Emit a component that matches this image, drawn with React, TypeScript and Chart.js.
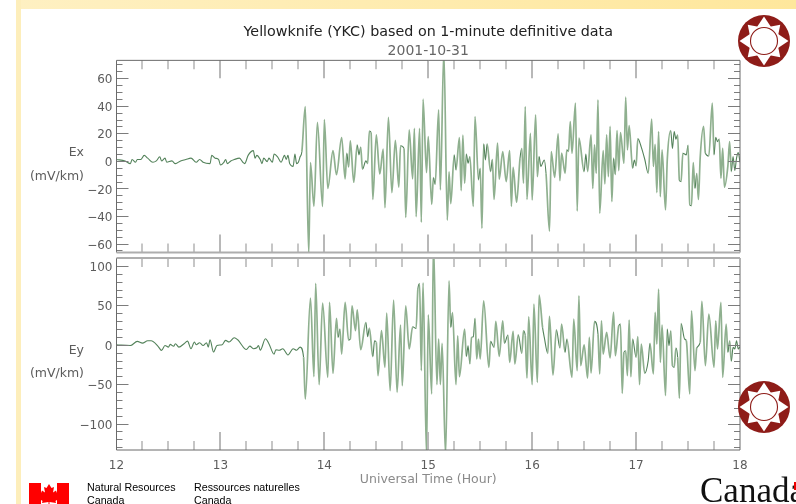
import React, { useEffect, useRef } from "react";
import { Chart, registerables } from "chart.js";

Chart.register(...registerables);

const exMinutes = [0,5,8,9,11,12,14,16,18,21,23,25,26,28,29,32,34,37,40,43,46,48,50,54,55,57,59,60,62,63,64,66,68,71,73,74,76,79,80,81,83,84,85,87,88,90,91,93,95,97,98,99,100,102,103,104,105,106,107,109,111,
112,114,116,119,120,122,125,127,130,132,133,134,135,137,139,140,141,142,144,145,146,147,148,150,152,154,155,157,159,161,163,164,166,167,169,171,172,173,175,176,177,179,180,182,183,184,186,187,189,191,192,
193,195,196,198,199,200,201,202,203,204,206,207,209,210,211,212,213,214,216,217,218,220,221,223,225,227,228,229,231,233,234,235,236,237,239,240,242,243,244,245,247,248,250,251,253,255,256,257,259,260,261,262,263,265,266,267,270,271,272,274,275,276,277,278,279,
281,282,283,284,285,286,287,288,289,290,291,293,294,295,296,298,299,300,301,303,305,307,309,310,311,312,313,314,315,317,318,320,321,322,323,324,325,326,327,329,330,331,332,333,334,335,336,337,339,340,342,344,345,346,347,348,349,350,351,353,354,355,356,357,358,359,360];
const exValues = [1,0,-2,1,-1,1,1,4,2,-1,0,3,0,2,-1,0,-2,0,1,2,-1,1,-1,-2,4,2,1,-3,-1,1,-2,0,1,2,-1,-2,4,7.5,2,4,1,-2,2,-0.5,2,-1,5,3,-1,4,1,4,-2,-4,5,-2,-1,3,6.5,39.5,-66.6,
-1.2,-33,28,-33,30,-20,7.5,-10,17,-13,5.6,-4.6,14.5,-15.5,11.6,4.4,10,-6,0,-2,21.6,20.6,-28,19,-9.5,8.5,-34,31.7,-23,15,-19,11,9,-41,22.5,-13,23.7,-40.5,23.7,-44.6,44.8,-8.5,17.7,-31.5,-12,-17,37,-21,80,-43,-8,
-31,4.4,-6.5,17,-21.6,18.7,-16.2,5,-1.7,3.2,-33,32.2,-13.8,-5.3,-49,12.4,0.7,12.4,-7.8,1.2,-28,12.9,-13.3,6.8,-15,7.5,-33,-4.6,-30,2,9.2,-16.2,39.5,-27.9,20,-28.4,33.5,-11.4,3.2,-4,0.7,-9,-51,6.8,-12,19.6,-14.3,5.6,-9,8,6.8,28.6,5.6,42,-36.4,16.5,-7.8,5,-7.8,18.9,-20,11.6,-9,44.4,-38,
7.5,-16.7,19,-11.4,25,-29.6,2,-10,22,-7,20.6,-1.7,46.3,8,25.7,-5.3,0.7,-3.6,16.2,10,1.2,-9,30.3,-4,12,-23,21.3,-26,8,-35.6,0.7,22,9,21.3,15.8,19,-14,-15,5.6,4.4,11.4,-32,-32.5,-1.2,-20,-9,-28,2,25,5.6,3.6,42,4.4,17.2,14,15.8,-12.6,9.2,-19,-3.6,14,-7.8,3.2,-7,2,6,-1];

const eyMinutes = [0,8,12,15,18,20,24,26,28,30,31,33,34,36,39,41,43,45,46,48,50,52,53,54,56,58,61,63,65,68,70,75,77,79,81,82,83,86,88,91,92,94,96,99,102,104,106,
108,109,112,114,115,117,119,122,123,125,127,128,129,130,132,134,135,136,138,139,141,144,145,146,148,149,150,151,153,155,156,158,160,162,164,165,167,169,171,173,174,175,176,177,179,180,182,183,185,186,187,188,190,192,
193,194,196,197,198,201,202,203,204,205,206,207,208,209,210,212,215,216,218,219,221,223,224,226,227,229,230,232,234,235,236,237,238,240,241,243,244,246,247,249,250,252,254,256,257,259,260,263,264,266,267,268,270,272,273,274,276,278,279,
280,281,283,285,287,288,290,291,292,293,294,295,296,297,298,300,301,302,303,305,307,308,310,311,312,313,314,315,317,318,319,320,321,322,323,324,325,326,328,329,331,332,334,335,337,338,340,342,345,346,347,349,350,352,353,354,355,356,357,358,359,360];
const eyValues = [0,-1,4.2,2,5,5,-2,-7.2,-1,-3,0.4,-2,1.3,-3,1.3,4.6,-5,3.4,0,2.5,-1,2.5,-3,6.3,-9.3,-1,0,5.5,3.4,8.9,6.3,-6,-1.7,-5,-3.8,-1,-7,7.6,1.3,-12,-6.3,-7,-5,-13,-5,-7,-3,
-15.6,-69,59,-40.5,77.7,-50.6,52.8,-41.3,53.6,-36.3,33.4,9.3,19.9,-11.8,53.6,5.9,7.2,49.4,17.8,44.3,-6.3,28.3,10.2,21.1,-15,5.1,3,-39.2,17.8,-28.7,40.1,-58.2,56.6,-60.3,24.9,-51.9,49.4,-5.4,22.8,20.7,70.5,77.7,-32.9,78.5,-140,38,-62.4,130,-50.6,7.2,-50.6,1.7,-140,81,
22,41,-50.6,11.4,-40.5,19.9,-15,-1.2,-24.4,9.3,10,33.4,-18,7.2,-18,55.7,-28.7,4.3,-3.3,29.6,-14.7,30.4,1.7,12.3,-22.3,17,-24.4,12.7,-11,17.8,11.4,-42.2,35.5,-50.6,51.5,-47.7,62.9,22,9.3,-11,35.9,-38.4,19,-4.2,26.2,-9.7,7.2,-41.3,32.5,-32.9,62,-26.6,0,-42.2,9.3,-35.8,29.6,13.5,-37,
30.4,-11.8,15.7,-16.8,41,-13.9,24,26.2,-61.6,-9.7,-7.6,-39.2,31.3,-40.5,7.2,-16,10.2,-50.6,0.9,-36.3,-20.2,1.7,-37,41,0.9,70.5,-22.3,25,-64.5,19.9,-1.2,17.8,-26.5,-28.7,-4.2,-16,-67.9,27,7.2,5.1,-62.4,43,-32.9,-4.2,3,54.9,-26.5,38.9,-28.7,30.4,-5.4,53.6,-41.3,26.2,-9.7,5.1,-21,-3.3,-5.4,5.1,-5.4,-2.5];

const hourTicks = [12, 13, 14, 15, 16, 17, 18];
const quarterTicks = [12.25,12.5,12.75,13.25,13.5,13.75,14.25,14.5,14.75,15.25,15.5,15.75,16.25,16.5,16.75,17.25,17.5,17.75];

const exMajor = [-60, -40, -20, 0, 20, 40, 60];
const exMinor = [-65,-55,-50,-45,-35,-30,-25,-15,-10,-5,5,10,15,25,30,35,45,50,55,65,70];
const eyMajor = [-100, -50, 0, 50, 100];
const eyMinor = [-130,-120,-110,-90,-80,-70,-60,-40,-30,-20,-10,10,20,30,40,60,70,80,90];

const titleText = "Yellowknife (YKC) based on 1-minute definitive data";
const dateText = "2001-10-31";
const xTitle = "Universal Time (Hour)";
const unitText = "(mV/km)";

const FONT = "'DejaVu Sans'";
const LINE_DARK = "#53825a";
const LINE_PALE = "#8fb08f";

function buildPoints(minutes: number[], values: number[]) {
  return minutes.map((m, i) => ({ x: 12 + m / 60, y: values[i] }));
}

function makePanel(
  canvas: HTMLCanvasElement,
  p: {
    name: string; minutes: number[]; values: number[]; min: number; max: number;
    major: number[]; minor: number[]; showX: boolean; padTop: number; steep: number;
    labelY: number; unitY: number; topHeavy: boolean; bottomHeavy: boolean; heading: boolean;
  }
) {
  const frame = {
    id: "idlFrame",
    beforeDatasetsDraw(chart: any) {
      if (chart.$labelsNudged) return;
      chart.$labelsNudged = true;
    },
    beforeDraw(chart: any) {
      // Chart.js centres on the em box; digits sit a little high compared with the reference.
      chart.scales.y.getLabelItems().forEach((item: any) => { item.textOffset += 2; });
    },
    afterDraw(chart: any) {
      const { ctx, chartArea: a, scales } = chart;
      const vTick = (h: number, len: number, col: string, w: number) => {
        const x = Math.round(scales.x.getPixelForValue(h));
        ctx.strokeStyle = col; ctx.lineWidth = w;
        ctx.beginPath();
        ctx.moveTo(x, a.top); ctx.lineTo(x, a.top + len);
        ctx.moveTo(x, a.bottom); ctx.lineTo(x, a.bottom - len);
        ctx.stroke();
      };
      const hTick = (v: number, len: number) => {
        const y = Math.round(scales.y.getPixelForValue(v)) + 0.5;
        ctx.strokeStyle = "#7c7c7c"; ctx.lineWidth = 1;
        ctx.beginPath();
        ctx.moveTo(a.left, y); ctx.lineTo(a.left + len, y);
        ctx.moveTo(a.right, y); ctx.lineTo(a.right - len, y);
        ctx.stroke();
      };
      ctx.save();
      quarterTicks.forEach((h) => vTick(h, 9, "#b8b8b8", 1.6));
      hourTicks.slice(1, -1).forEach((h) => vTick(h, 18, "#b8b8b8", 2));
      p.minor.forEach((v) => hTick(v, 6));
      p.major.forEach((v) => hTick(v, 12));
      ctx.strokeStyle = "#6a6a6a"; ctx.lineWidth = 1;
      ctx.beginPath();
      ctx.moveTo(a.left, a.top); ctx.lineTo(a.left, a.bottom);
      ctx.moveTo(a.right, a.top); ctx.lineTo(a.right, a.bottom);
      ctx.stroke();
      const edge = (y: number, heavy: boolean) => {
        ctx.strokeStyle = heavy ? "#aeaeae" : "#6a6a6a";
        ctx.lineWidth = heavy ? 2 : 1;
        ctx.beginPath(); ctx.moveTo(a.left, y); ctx.lineTo(a.right, y); ctx.stroke();
      };
      edge(a.top, p.topHeavy);
      edge(a.bottom, p.bottomHeavy);
      ctx.fillStyle = "#5c5c5c";
      ctx.font = `12.5px ${FONT}`;
      ctx.textAlign = "right";
      ctx.textBaseline = "middle";
      ctx.fillText(p.name, 84, p.labelY);
      ctx.fillText(unitText, 84, p.unitY);
      ctx.restore();
    },
  };

  const isSteep = (c: any) => Math.abs(c.p1.parsed.y - c.p0.parsed.y) > p.steep;

  return new Chart(canvas, {
    type: "line",
    data: {
      datasets: [{
        label: p.name,
        data: buildPoints(p.minutes, p.values),
        borderColor: LINE_DARK,
        borderWidth: 1.1,
        pointRadius: 0,
        cubicInterpolationMode: "monotone",
        segment: {
          borderColor: (c: any) => (isSteep(c) ? LINE_PALE : LINE_DARK),
          borderWidth: (c: any) => (isSteep(c) ? 1.7 : 1.1),
        },
      }],
    },
    plugins: [frame],
    options: {
      animation: false,
      responsive: false,
      parsing: false,
      layout: { autoPadding: false, padding: { left: 0, right: 56, top: p.padTop, bottom: p.showX ? 0 : 3.5 } },
      plugins: {
        legend: { display: false },
        tooltip: { enabled: false },
        title: {
          display: p.heading,
          text: titleText,
          color: "#222",
          fullSize: false,
          font: { family: FONT, size: 14.3, weight: "normal" },
          padding: { top: 23.5, bottom: 1 },
        },
        subtitle: {
          display: p.heading,
          text: dateText,
          color: "#666",
          fullSize: false,
          font: { family: FONT, size: 14, weight: "normal" },
          padding: { top: 1, bottom: 0.9 },
        },
      },
      scales: {
        x: {
          type: "linear",
          min: 12,
          max: 18,
          afterBuildTicks: (s: any) => { s.ticks = hourTicks.map((value) => ({ value })); },
          afterFit: (s: any) => { s.height = p.showX ? 54 : 0; s.paddingLeft = 0; s.paddingRight = 0; },
          grid: { display: false, drawTicks: false },
          border: { display: false },
          ticks: {
            display: p.showX,
            autoSkip: false,
            maxRotation: 0,
            padding: 9,
            color: "#5c5c5c",
            font: { family: FONT, size: 12 },
          },
          title: {
            display: p.showX,
            text: xTitle,
            color: "#8a8a8a",
            font: { family: FONT, size: 12.5 },
            padding: { top: 0, bottom: 17 },
          },
        },
        y: {
          type: "linear",
          min: p.min,
          max: p.max,
          afterBuildTicks: (s: any) => { s.ticks = p.major.map((value) => ({ value })); },
          afterFit: (s: any) => { s.width = 116.5; s.paddingTop = 0; s.paddingBottom = 0; },
          grid: { display: false, drawTicks: false },
          border: { display: false },
          ticks: {
            autoSkip: false,
            padding: 4,
            color: "#5c5c5c",
            font: { family: FONT, size: 12 },
            callback: (v: any) => String(v).replace("-", "\u2212"),
          },
        },
      },
    } as any,
  });
}

const sunSpokes = [0, 45, 90, 135, 180, 225, 270, 315];

function Sun({ x, y }: { x: number; y: number }) {
  return (
    <svg width={56} height={56} viewBox="-28 -28 56 56" style={{ position: "absolute", left: x - 28, top: y - 28 }}>
      <circle r={26} fill="#8e1c18" />
      {sunSpokes.map((a) => (
        <polygon
          key={a}
          points={a % 90 === 0 ? "-7,-14 0,-24.5 7,-14" : "-6,-14 0,-23 6,-14"}
          fill="#fff"
          transform={`rotate(${a})`}
        />
      ))}
      <circle r={15.5} fill="#fff" />
      <circle r={13.5} fill="#fff" stroke="#8e1c18" strokeWidth={1.1} />
    </svg>
  );
}

export default function App() {
  const topRef = useRef<HTMLCanvasElement>(null);
  const bottomRef = useRef<HTMLCanvasElement>(null);

  useEffect(() => {
    const a = makePanel(topRef.current!, {
      name: "Ex", minutes: exMinutes, values: exValues, min: -66.5, max: 73,
      major: exMajor, minor: exMinor, showX: false, padTop: 0, steep: 14,
      labelY: 153, unitY: 177, topHeavy: false, bottomHeavy: true, heading: true,
    });
    const b = makePanel(bottomRef.current!, {
      name: "Ey", minutes: eyMinutes, values: eyValues, min: -133.5, max: 110,
      major: eyMajor, minor: eyMinor, showX: true, padTop: 3, steep: 24,
      labelY: 96, unitY: 119, topHeavy: true, bottomHeavy: false, heading: false,
    });
    return () => { a.destroy(); b.destroy(); };
  }, []);

  const text: React.CSSProperties = {
    position: "absolute", fontFamily: "'Liberation Sans'", fontSize: 10.7, lineHeight: "13px",
    color: "#000", whiteSpace: "pre",
  };

  return (
    <div style={{ position: "fixed", left: 0, top: 0, width: 796, height: 504, overflow: "hidden", background: "#fff" }}>
      <div style={{ position: "absolute", left: 16, top: 0, width: 780, height: 9, background: "linear-gradient(90deg,#fef0c2,#fee79c)" }} />
      <div style={{ position: "absolute", left: 16, top: 0, width: 5, height: 504, background: "#fdeebb" }} />
      <canvas ref={topRef} width={796} height={256} style={{ position: "absolute", left: 0, top: 0 }} />
      <canvas ref={bottomRef} width={796} height={249} style={{ position: "absolute", left: 0, top: 255 }} />
      <Sun x={763.5} y={41} />
      <Sun x={763.5} y={407} />
      <svg width={40} height={21} viewBox="0 0 40 21" style={{ position: "absolute", left: 29, top: 483 }}>
        <rect width={12} height={21} fill="#ff0000" />
        <rect x={28} width={12} height={21} fill="#ff0000" />
        <polygon
          fill="#ff0000"
          points="20,1 22.5,5 25,4 24,9.5 27,7.5 28,10 31,9.5 30,13 32,14 26.5,18 27,20 20.5,19 20.5,21 19.5,21 19.5,19 13,20 13.5,18 8,14 10,13 9,9.5 12,10 13,7.5 16,9.5 15,4 17.5,5"
        />
      </svg>
      <div style={{ ...text, left: 87, top: 481 }}>{"Natural Resources\nCanada"}</div>
      <div style={{ ...text, left: 194, top: 481 }}>{"Ressources naturelles\nCanada"}</div>
      <div style={{ position: "absolute", left: 700, top: 471, fontFamily: "'Liberation Serif'", fontSize: 35, lineHeight: "40px", color: "#111", whiteSpace: "pre" }}>Canada</div>
      <div style={{ position: "absolute", left: 794, top: 482, width: 2, height: 8, background: "#e00" }} />
    </div>
  );
}
